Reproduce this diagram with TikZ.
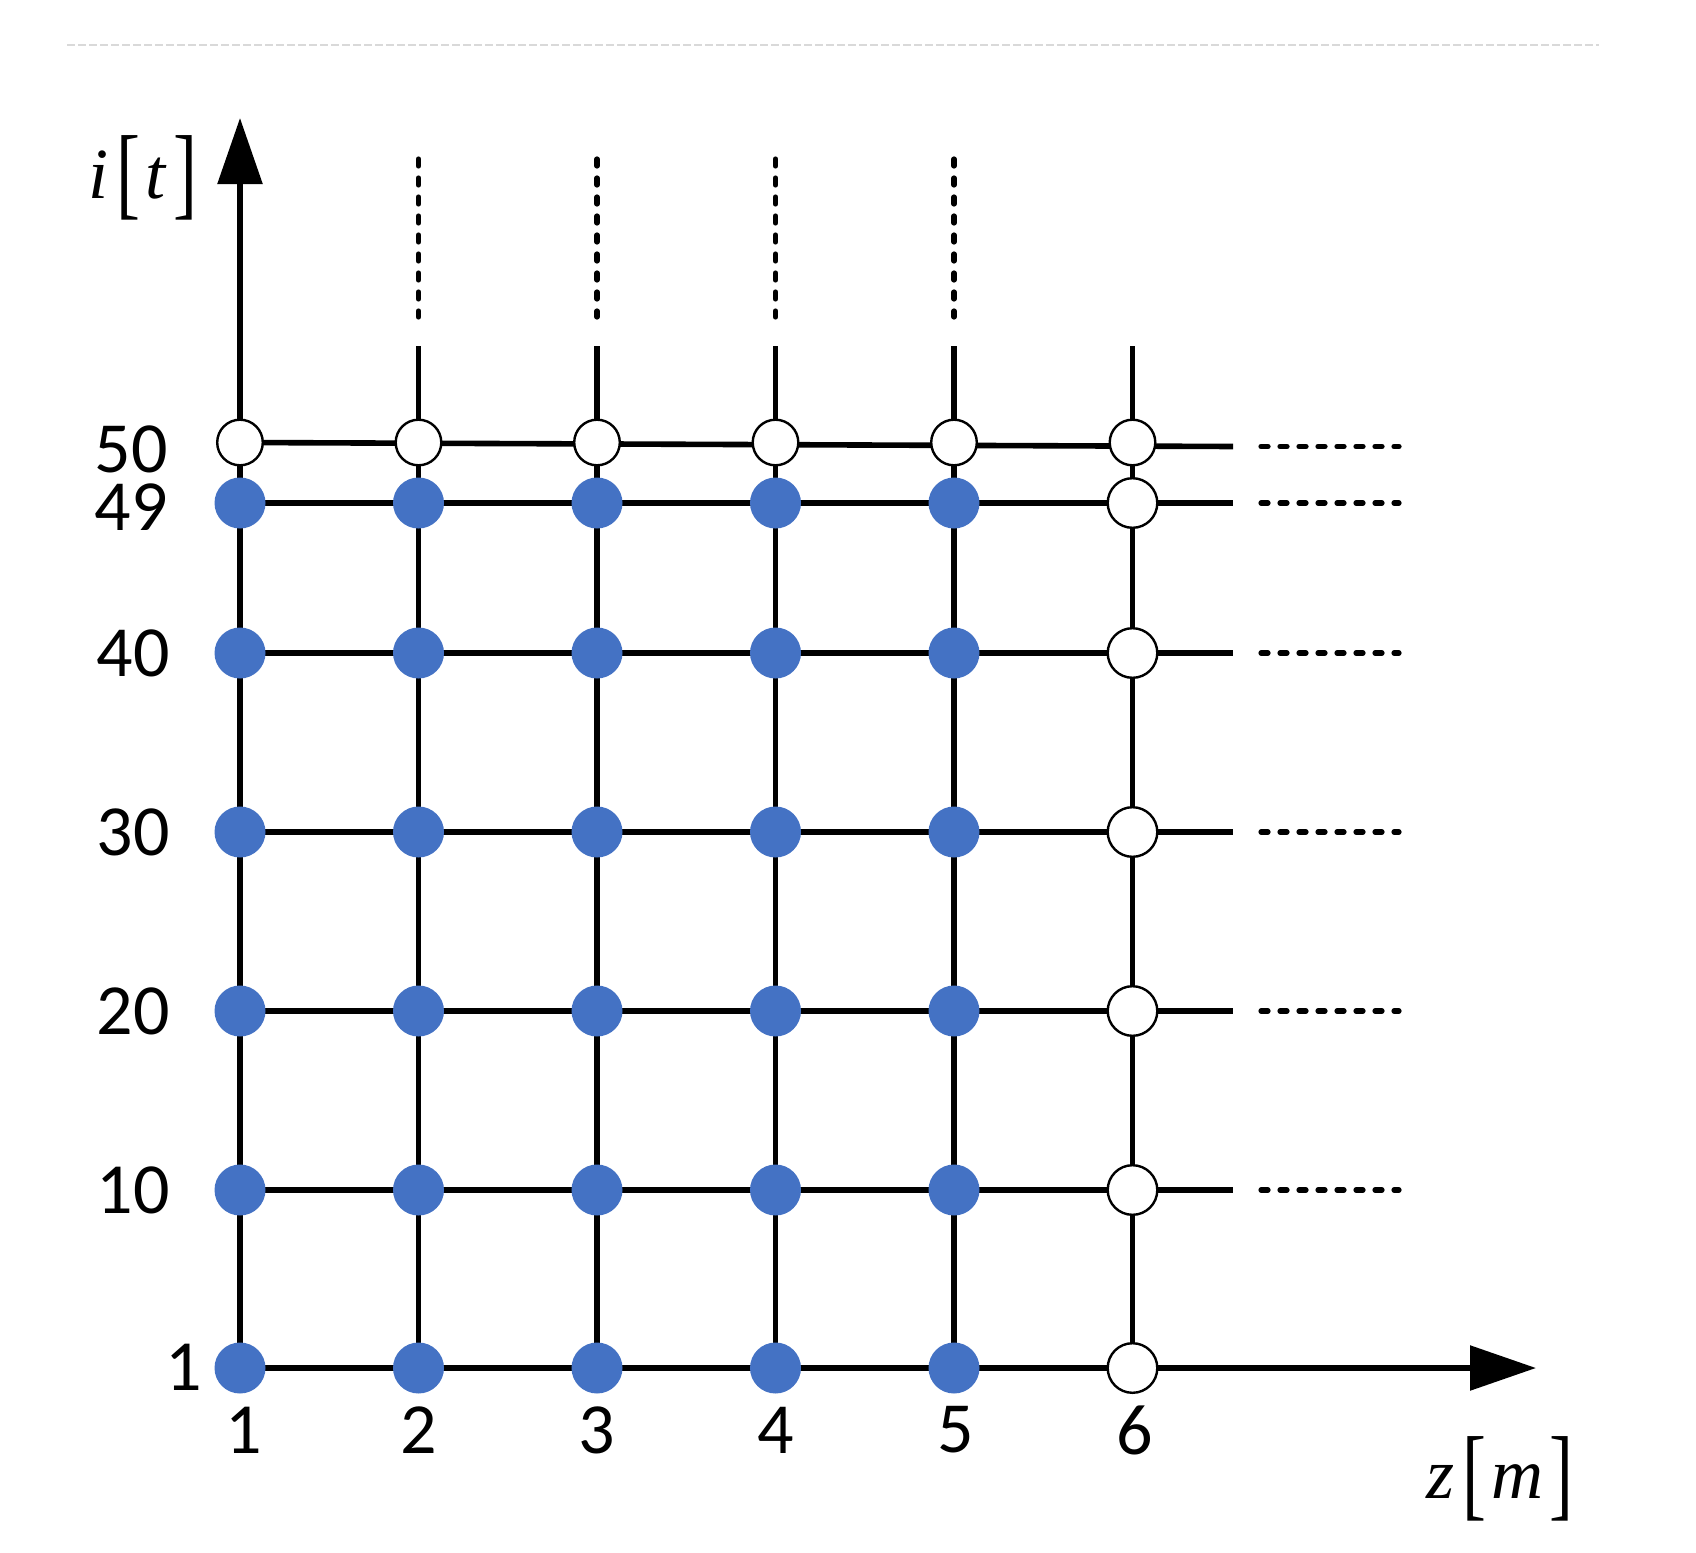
\documentclass[tikz,border=0pt]{standalone}
\usepackage{graphicx}
\usepackage{fontspec}
\setmainfont{Carlito}
\newfontfamily\tms{Liberation Serif}
\usetikzlibrary{arrows.meta}
\definecolor{dotblue}{HTML}{4472C4}
\newcommand{\tallbr}[1]{\raisebox{-4.5pt}{\scalebox{1}[1.42]{\tms\fontsize{36}{40}\selectfont #1}}}
\begin{document}
\begin{tikzpicture}[x=0.5pt,y=-0.5pt,
  gridline/.style={line width=2.8pt, black},
  dotline/.style={line width=2.6pt, dash pattern=on 3.5pt off 6pt, line cap=round},
  fulldot/.style={circle, fill=dotblue, minimum size=25.5pt, inner sep=0pt},
  opendot/.style={circle, draw=black, fill=white, line width=1.2pt, minimum size=24.8pt, inner sep=0pt},
  opentop/.style={opendot, minimum size=22.8pt},
  lab/.style={font=\fontsize{36}{40}\selectfont, inner sep=0pt},
  axlab/.style={inner sep=0pt, anchor=base west},
  tip/.style={-{Triangle[length=33pt,width=22pt]}}
]
\useasboundingbox (0,0) rectangle (1696,1552);
% faint top rule
\coordinate (ruleL) at (67,45);
\coordinate (ruleR) at (1599,45);
\draw[black!15, line width=1pt, dash pattern=on 4pt off 1.5pt] (ruleL) -- (ruleR);
% grid points
\foreach \c/\x in {1/240,2/418.5,3/597,4/775.5,5/954,6/1132.5}{
  \foreach \r/\y in {50/442.5,49/503,40/653,30/832,20/1011,10/1190,1/1368}{
    \coordinate (p\c-\r) at (\x,\y);
  }
}
\foreach \c/\x in {2/418.5,3/597,4/775.5,5/954,6/1132.5}{
  \coordinate (top\c) at (\x,346);
}
\foreach \c/\x in {2/418.5,3/597,4/775.5,5/954}{
  \coordinate (dtop\c) at (\x,159);
  \coordinate (dbot\c) at (\x,317);
}
\foreach \r/\y in {50/446.5,49/503,40/653,30/832,20/1011,10/1190}{
  \coordinate (rend\r) at (1233,\y);
  \coordinate (ds\r) at (1261,\y);
  \coordinate (de\r) at (1399,\y);
}
\coordinate (ytip) at (240,118);
\coordinate (xtip) at (1536,1368);
% axes
\draw[gridline,tip] (p1-1) -- (ytip);
\draw[gridline,tip] (p1-1) -- (xtip);
% vertical lines
\foreach \c in {2,3,4,5,6}{
  \draw[gridline] (p\c-1) -- (top\c);
}
\foreach \c in {2,3,4,5}{
  \draw[dotline] (dtop\c) -- (dbot\c);
}
% horizontal lines
\foreach \r in {50,49,40,30,20,10}{
  \draw[gridline] (p1-\r) -- (rend\r);
  \draw[dotline] (ds\r) -- (de\r);
}
% dots
\foreach \c in {1,2,3,4,5}{
  \foreach \r in {49,40,30,20,10,1}{
    \node[fulldot] (d\c-\r) at (p\c-\r) {};
  }
}
\foreach \c in {1,2,3,4,5,6}{
  \node[opentop] (d\c-50) at (p\c-50) {};
}
\foreach \r in {49,40,30,20,10,1}{
  \node[opendot] (d6-\r) at (p6-\r) {};
}
% row labels
\node[lab, anchor=east] (r50) at (168,449) {50};
\node[lab, anchor=east] (r49) at (168,507) {49};
\node[lab, anchor=east] (r40) at (170,653) {40};
\node[lab, anchor=east] (r30) at (170,832) {30};
\node[lab, anchor=east] (r20) at (170,1011) {20};
\node[lab, anchor=east] (r10) at (170,1190) {10};
\node[lab, anchor=east] (r1) at (202,1367) {1};
% column labels
\node[lab] (c1) at (244,1430) {1};
\node[lab] (c2) at (419,1430) {2};
\node[lab] (c3) at (597,1430) {3};
\node[lab] (c4) at (776,1430) {4};
\node[lab] (c5) at (956,1430) {5};
\node[lab] (c6) at (1135,1430) {6};
% axis labels
\node[axlab] (ylab) at (88,198) {{\tms\itshape\fontsize{36}{40}\selectfont i}\hspace{4pt}\tallbr{[}\hspace{2.5pt}{\tms\itshape\fontsize{36}{40}\selectfont t}\hspace{4pt}\tallbr{]}};
\node[axlab] (xlab) at (1426,1498) {{\tms\itshape\fontsize{36}{40}\selectfont z}\hspace{4pt}\tallbr{[}\hspace{2.5pt}{\tms\itshape\fontsize{36}{40}\selectfont m}\hspace{3pt}\tallbr{]}};
\end{tikzpicture}
\end{document}
